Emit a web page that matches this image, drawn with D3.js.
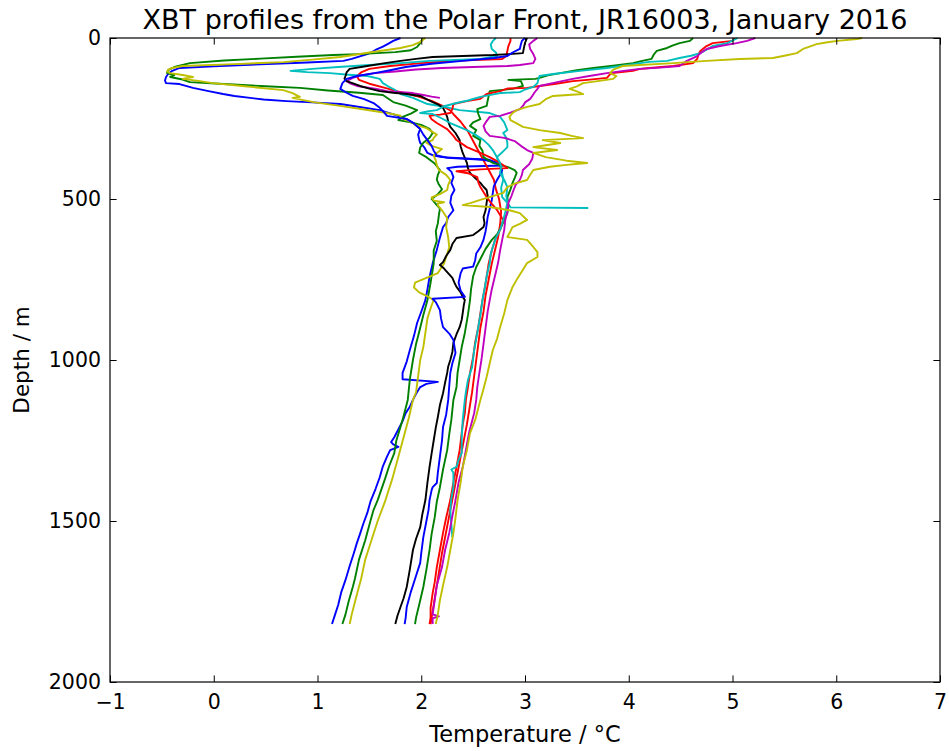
<!DOCTYPE html>
<html>
  <head>
    <meta charset="utf-8">
    <style>
body { margin: 0; background: #fff; }
svg { display: block; }
text { font-family: "DejaVu Sans", sans-serif; }
.profile { fill: none; stroke-width: 1.9; stroke-linejoin: round; }
    </style>
  </head>
  <body>
    <svg width="949" height="751"></svg>
    <script src="https://d3js.org/d3.v7.min.js"></script>
    <script>

// XBT casts as [depth m, temperature degC], in the order they were plotted
var cast1 = [[0,1.80],[9,1.73],[18,1.68],[27,1.63],[35,1.57],[43,1.53],[50,1.48],[58,1.40],[65,1.33],[71,1.25],[76,0.9],[82,0.45],[88,0.0],[93,-0.33],[102,-0.4],[112,-0.44],[121,-0.46],[132,-0.47],[140,-0.46],[143,-0.33],[155,-0.2],[165,-0.05],[174,0.09],[180,0.2],[186,0.35],[191,0.48],[196,0.7],[200,0.95],[205,1.22],[215,1.42],[224,1.6],[238,1.74],[252,1.86],[266,1.93],[282,1.99],[300,1.97],[315,1.98],[326,1.99],[340,2.03],[357,2.06],[365,2.12],[370,2.2],[378,2.65],[386,2.72],[396,2.78],[400,2.35],[404,2.25],[415,2.29],[432,2.31],[450,2.29],[472,2.32],[490,2.29],[512,2.28],[535,2.31],[556,2.26],[575,2.24],[587,2.21],[620,2.18],[658,2.15],[700,2.11],[742,2.08],[780,2.06],[814,2.04],[850,2.0],[885,1.96],[925,1.93],[969,1.89],[1005,1.86],[1040,1.82],[1060,1.82],[1068,2.16],[1074,2.05],[1084,1.99],[1105,1.95],[1124,1.92],[1145,1.89],[1165,1.85],[1190,1.82],[1215,1.78],[1240,1.74],[1255,1.71],[1262,1.73],[1270,1.78],[1280,1.7],[1300,1.67],[1330,1.63],[1364,1.60],[1400,1.56],[1440,1.51],[1475,1.48],[1510,1.44],[1540,1.41],[1568,1.38],[1600,1.35],[1640,1.31],[1683,1.27],[1720,1.23],[1760,1.2],[1790,1.17],[1820,1.14]];

var cast2 = [[0,2.02],[10,2.0],[20,1.98],[28,1.96],[38,1.9],[44,1.75],[50,1.4],[53,1.15],[58,0.8],[64,0.45],[70,0.1],[78,-0.23],[90,-0.38],[100,-0.44],[109,-0.45],[115,-0.38],[121,-0.42],[129,-0.3],[137,-0.23],[143,0.1],[150,0.5],[155,0.83],[163,1.1],[170,1.4],[177,1.63],[188,1.68],[199,1.73],[210,1.85],[224,1.96],[235,1.9],[245,1.82],[255,1.78],[262,1.9],[270,2.0],[282,2.08],[295,2.11],[310,2.08],[325,2.02],[340,1.99],[357,1.98],[370,2.05],[390,2.13],[410,2.18],[425,2.16],[440,2.15],[455,2.17],[470,2.2],[485,2.16],[500,2.1],[515,2.14],[530,2.18],[550,2.17],[575,2.16],[600,2.14],[630,2.15],[660,2.12],[700,2.12],[760,2.09],[814,2.06],[860,2.02],[900,1.99],[950,1.95],[1000,1.92],[1060,1.89],[1124,1.87],[1186,1.82],[1250,1.76],[1289,1.74],[1330,1.69],[1370,1.65],[1435,1.58],[1466,1.54],[1500,1.51],[1560,1.46],[1620,1.4],[1680,1.36],[1705,1.34],[1750,1.3],[1790,1.27],[1820,1.24]];

var cast3 = [[0,2.86],[9,2.86],[25,2.84],[40,2.83],[56,2.82],[65,2.78],[71,2.3],[78,2.0],[87,1.7],[96,1.5],[107,1.42],[118,1.38],[130,1.4],[142,1.5],[155,1.65],[168,1.8],[180,1.95],[195,2.1],[210,2.2],[225,2.28],[240,2.32],[260,2.38],[290,2.45],[320,2.5],[350,2.55],[380,2.6],[410,2.65],[440,2.7],[470,2.72],[500,2.75],[540,2.77],[580,2.76],[620,2.74],[660,2.71],[700,2.68],[750,2.65],[800,2.62],[850,2.6],[900,2.57],[950,2.55],[1000,2.53],[1100,2.49],[1200,2.44],[1300,2.38],[1400,2.32],[1500,2.26],[1600,2.2],[1700,2.15],[1780,2.11],[1820,2.09]];

var cast4 = [[0,2.72],[9,2.69],[20,2.67],[34,2.68],[45,2.72],[56,2.73],[60,2.65],[65,2.57],[71,2.08],[78,1.8],[84,1.5],[90,1.2],[96,0.95],[102,0.74],[106,0.9],[109,1.12],[114,1.3],[118,1.48],[127,1.6],[140,1.63],[150,1.68],[160,1.74],[174,1.80],[186,1.92],[205,2.06],[211,2.18],[224,2.37],[233,2.66],[245,2.76],[262,2.8],[286,2.83],[295,2.79],[310,2.82],[326,2.83],[339,2.83],[355,2.78],[370,2.73],[385,2.74],[400,2.76],[420,2.78],[441,2.79],[465,2.77],[494,2.78],[512,2.83],[526,2.86],[528,3.61]];

var cast5 = [[0,3.12],[9,3.08],[20,3.04],[34,3.05],[50,3.08],[65,3.10],[78,3.08],[84,2.95],[87,2.83],[90,2.5],[93,2.2],[98,1.95],[104,1.75],[109,1.55],[116,1.42],[124,1.34],[134,1.28],[142,1.32],[149,1.38],[158,1.57],[165,1.67],[171,1.92],[177,2.02],[182,2.1],[186,2.18]];

var cast6 = [[0,2.04],[12,1.99],[22,1.92],[31,1.80],[45,1.5],[59,1.22],[67,0.95],[75,0.67],[81,0.2],[87,-0.3],[93,-0.4],[99,-0.44],[104,-0.45],[109,-0.42],[115,-0.3],[121,-0.2],[127,-0.3],[133,-0.15],[140,-0.01],[150,0.3],[162,0.67],[171,0.76],[178,0.8],[183,0.83],[186,0.76],[192,0.85],[199,0.96],[210,1.2],[222,1.45],[233,1.67],[241,1.8],[248,1.80],[258,1.88],[270,1.95],[280,2.05],[290,2.1],[300,2.15],[310,2.12],[317,2.11],[325,2.05],[335,2.1],[345,2.2],[355,2.16],[365,2.12],[380,2.14],[395,2.15],[410,2.17],[425,2.24],[441,2.28],[456,2.26],[472,2.25],[485,2.18],[495,2.10],[505,2.12],[510,2.22],[514,2.16],[520,2.16],[535,2.2],[560,2.25],[587,2.24],[620,2.26],[650,2.27],[670,2.25],[700,2.22],[730,2.16],[745,2.05],[760,1.94],[775,1.93],[790,1.98],[804,2.07],[814,2.12],[830,2.1],[870,2.06],[915,2.04],[960,2.02],[1000,1.99],[1050,1.97],[1100,1.95],[1124,1.92],[1180,1.88],[1240,1.83],[1300,1.78],[1370,1.72],[1440,1.65],[1500,1.58],[1560,1.52],[1620,1.46],[1680,1.42],[1740,1.37],[1790,1.33],[1820,1.31]];

var cast7 = [[0,3.02],[15,3.0],[30,2.99],[47,2.98],[50,2.85],[53,2.69],[56,2.4],[59,2.11],[65,1.95],[71,1.80],[78,1.65],[87,1.48],[96,1.31],[107,1.28],[118,1.27],[126,1.26],[134,1.28],[142,1.35],[149,1.41],[157,1.5],[165,1.60],[170,1.73],[174,1.86],[180,1.99],[190,2.05],[199,2.11],[208,2.17],[217,2.21],[230,2.23],[245,2.25],[260,2.26],[276,2.28],[295,2.33],[317,2.37],[337,2.38],[357,2.40],[372,2.42],[388,2.44],[404,2.45],[419,2.47],[435,2.52],[450,2.57],[462,2.6],[472,2.63],[490,2.64],[512,2.63],[535,2.62],[556,2.60],[575,2.61],[587,2.60],[600,2.55],[612,2.5],[621,2.34],[640,2.3],[658,2.28],[677,2.24],[696,2.21],[705,2.18],[716,2.22],[727,2.25],[745,2.30],[760,2.32],[773,2.34],[790,2.38],[804,2.40],[814,2.42],[830,2.41],[854,2.40],[875,2.39],[898,2.37],[920,2.34],[947,2.31],[975,2.3],[1000,2.28],[1020,2.26],[1040,2.25],[1070,2.23],[1103,2.21],[1140,2.18],[1177,2.16],[1210,2.14],[1250,2.12],[1290,2.1],[1332,2.08],[1380,2.06],[1435,2.04],[1480,2.01],[1519,1.99],[1555,1.95],[1590,1.92],[1650,1.89],[1705,1.86],[1740,1.83],[1767,1.80],[1795,1.77],[1820,1.75]];

var cast8 = [[0,3.0],[9,2.97],[20,2.96],[34,2.95],[45,2.88],[56,2.83],[62,2.7],[71,2.4],[80,2.1],[90,1.85],[100,1.7],[109,1.55],[118,1.38],[127,1.28],[140,1.24],[158,1.22],[170,1.28],[180,1.34],[190,1.45],[202,1.54],[217,1.60],[230,1.64],[242,1.67],[252,1.86],[265,1.93],[283,1.99],[300,2.02],[317,2.06],[335,2.1],[350,2.12],[365,2.15],[372,2.25],[378,2.6],[385,2.7],[395,2.76],[410,2.78],[425,2.76],[441,2.73],[460,2.7],[480,2.69],[503,2.68],[530,2.66],[556,2.64],[580,2.63],[600,2.62],[627,2.6],[650,2.57],[669,2.53],[690,2.52],[710,2.5],[716,2.4],[730,2.38],[760,2.36],[785,2.38],[804,2.42],[810,2.11],[820,2.14],[845,2.18],[870,2.19],[898,2.21],[918,2.27],[938,2.31],[958,2.32],[978,2.33],[1010,2.3],[1040,2.28],[1080,2.27],[1124,2.26],[1170,2.24],[1208,2.21],[1250,2.2],[1300,2.18],[1350,2.16],[1382,2.15],[1395,2.11],[1404,2.10],[1435,2.08],[1466,2.07],[1500,2.05],[1550,2.02],[1600,2.0],[1630,1.99],[1680,1.94],[1720,1.9],[1767,1.86],[1800,1.85],[1820,1.84]];

var cast9 = [[0,4.62],[9,4.59],[16,4.49],[24,4.42],[31,4.37],[40,4.27],[52,4.24],[65,4.22],[72,4.12],[78,4.04],[86,3.85],[93,3.66],[100,3.5],[109,3.34],[116,3.22],[124,3.14],[127,3.1],[130,2.84],[134,2.96],[141,2.97],[149,2.98],[158,2.88],[165,2.66],[180,2.65],[195,2.64],[211,2.63],[221,2.54],[236,2.55],[252,2.57],[262,2.5],[273,2.47],[286,2.53],[304,2.5],[317,2.57],[335,2.56],[350,2.59],[370,2.60],[388,2.69],[400,2.83],[410,2.9],[419,2.92],[435,2.9],[450,2.88],[470,2.86],[494,2.83],[520,2.84],[544,2.83],[565,2.8],[587,2.77],[610,2.73],[627,2.68],[655,2.62],[680,2.58],[711,2.53],[740,2.5],[780,2.48],[814,2.47],[860,2.45],[916,2.42],[960,2.39],[1000,2.37],[1040,2.35],[1084,2.34],[1124,2.31],[1186,2.29],[1230,2.27],[1280,2.25],[1340,2.21],[1395,2.18],[1440,2.15],[1488,2.13],[1540,2.1],[1590,2.08],[1650,2.05],[1705,2.02],[1760,1.98],[1800,1.95],[1820,1.94]];

var cast10 = [[0,5.02],[9,5.0],[16,4.81],[25,4.75],[40,4.69],[52,4.67],[65,4.66],[78,4.62],[87,4.43],[93,4.2],[96,4.11],[102,4.04],[109,3.84],[116,3.81],[124,3.79],[130,3.6],[134,3.46],[142,3.3],[149,3.14],[155,3.02],[157,2.83],[165,2.76],[174,2.63],[189,2.57],[196,2.44],[205,2.31],[220,2.3],[233,2.28],[238,2.18],[242,2.08],[252,2.1],[264,2.15],[283,2.25],[304,2.31],[317,2.34],[339,2.44],[357,2.57],[370,2.66],[388,2.76],[404,2.83],[408,2.57],[414,2.34],[420,2.45],[432,2.54],[448,2.55],[463,2.57],[494,2.63],[515,2.68],[534,2.73],[565,2.79],[596,2.76],[627,2.71],[660,2.68],[700,2.65],[742,2.63],[780,2.61],[814,2.59],[855,2.57],[898,2.55],[945,2.52],[991,2.50],[1040,2.47],[1084,2.45],[1124,2.43],[1165,2.42],[1200,2.4],[1227,2.39],[1280,2.37],[1332,2.34],[1380,2.31],[1435,2.28],[1490,2.24],[1537,2.21],[1590,2.18],[1643,2.15],[1690,2.13],[1724,2.11],[1770,2.09],[1800,2.09],[1820,2.08]];

var cast11 = [[0,5.05],[16,4.95],[25,4.81],[36,4.75],[47,4.69],[55,4.6],[62,4.49],[71,4.37],[74,4.2],[81,4.04],[93,3.79],[102,3.53],[112,3.27],[118,3.14],[128,3.13],[140,3.12],[152,3.08],[160,3.0],[168,2.95],[171,2.76],[183,2.57],[194,2.45],[202,2.34],[212,2.22],[224,2.15],[228,2.06],[233,1.99],[236,2.11],[250,2.2],[264,2.28],[275,2.36],[286,2.44],[300,2.52],[317,2.6],[332,2.65],[348,2.69],[365,2.72],[388,2.76],[400,2.77],[419,2.76],[441,2.8],[463,2.83],[490,2.82],[512,2.83],[540,2.81],[565,2.79],[596,2.76],[620,2.72],[649,2.69],[670,2.67],[699,2.66],[740,2.63],[780,2.61],[814,2.59],[860,2.57],[916,2.54],[970,2.51],[1022,2.49],[1062,2.45],[1100,2.43],[1124,2.42],[1186,2.40],[1240,2.39],[1289,2.39],[1310,2.36],[1332,2.34],[1340,2.29],[1350,2.31],[1395,2.31],[1430,2.29],[1466,2.28],[1510,2.29],[1550,2.30]];

var cast12 = [[0,5.22],[9,5.14],[16,5.04],[25,4.88],[34,4.75],[45,4.7],[56,4.66],[71,4.56],[80,4.52],[87,4.49],[92,4.3],[96,4.11],[102,3.95],[109,3.79],[118,3.62],[127,3.46],[138,3.3],[149,3.14],[158,3.12],[170,3.09],[180,3.07],[189,3.05],[200,3.0],[211,2.98],[221,2.95],[232,2.86],[242,2.76],[245,2.66],[258,2.63],[273,2.60],[290,2.62],[304,2.66],[310,2.8],[320,2.9],[335,2.96],[348,3.02],[357,3.08],[375,3.07],[392,3.04],[410,2.98],[425,2.97],[441,2.95],[456,2.91],[472,2.89],[490,2.87],[512,2.84],[540,2.83],[565,2.81],[595,2.8],[627,2.78],[660,2.76],[699,2.74],[740,2.71],[780,2.68],[814,2.66],[850,2.64],[900,2.62],[950,2.6],[1000,2.58],[1040,2.56],[1084,2.54],[1124,2.53],[1165,2.51],[1227,2.46],[1280,2.43],[1332,2.40],[1380,2.36],[1435,2.33],[1485,2.3],[1537,2.27],[1590,2.23],[1643,2.20],[1700,2.15],[1746,2.13],[1790,2.11],[1796,2.17],[1802,2.11],[1820,2.11]];

var cast13 = [[0,6.25],[3,6.2],[9,6.01],[14,5.9],[19,5.81],[26,5.75],[34,5.68],[47,5.62],[55,5.5],[62,5.39],[65,5.07],[71,4.75],[78,4.43],[87,3.94],[98,3.85],[109,3.82],[118,3.88],[127,3.85],[134,3.7],[140,3.56],[150,3.5],[158,3.43],[166,3.5],[174,3.56],[180,3.27],[190,3.2],[205,3.14],[214,3.02],[224,2.92],[233,2.88],[245,2.85],[255,2.86],[265,2.92],[276,2.98],[286,3.14],[295,3.34],[304,3.45],[311,3.56],[317,3.17],[326,3.34],[333,3.2],[339,3.08],[348,3.31],[357,3.08],[370,3.2],[381,3.4],[388,3.60],[394,3.4],[400,3.24],[410,3.08],[425,3.05],[441,3.02],[452,2.9],[463,2.83],[481,2.79],[495,2.65],[503,2.57],[512,2.48],[519,2.40],[525,2.66],[535,2.85],[544,2.95],[565,3.02],[577,2.95],[587,2.88],[600,2.86],[618,2.83],[627,3.02],[649,3.08],[665,3.12],[680,3.12],[699,3.02],[720,2.98],[745,2.93],[773,2.88],[814,2.83],[855,2.8],[898,2.76],[935,2.73],[969,2.69],[1010,2.66],[1053,2.63],[1090,2.6],[1124,2.57],[1186,2.52],[1227,2.47],[1280,2.44],[1332,2.40],[1380,2.38],[1435,2.35],[1490,2.33],[1537,2.31],[1590,2.28],[1643,2.25],[1700,2.21],[1746,2.18],[1790,2.16],[1820,2.14]];

var xTicks = [-1, 0, 1, 2, 3, 4, 5, 6, 7];
var yTicks = [0, 500, 1000, 1500, 2000];

// old matplotlib colour cycle b, g, r, c, m, y, k
var colors = ["#0000ff", "#008000", "#ff0000", "#00bfbf", "#bf00bf", "#bfbf00", "#000000"];
var casts = [cast1, cast2, cast3, cast4, cast5, cast6, cast7, cast8, cast9, cast10, cast11, cast12, cast13];

var svg = d3.select("svg"),
    margin = {top: 38, right: 9, bottom: 69, left: 110},
    width = +svg.attr("width") - margin.left - margin.right,
    height = +svg.attr("height") - margin.top - margin.bottom;

var x = d3.scaleLinear().domain([-1, 7]).range([0, width]),
    y = d3.scaleLinear().domain([0, 2000]).range([0, height]);

var g = svg.append("g")
  .attr("transform", "translate(" + margin.left + "," + margin.top + ")");

var line = d3.line()
  .x(function(d) { return x(d[1]); })
  .y(function(d) { return y(d[0]); });

g.selectAll(".profile")
  .data(casts)
  .enter().append("path")
  .attr("class", "profile")
  .attr("stroke", function(d, i) { return colors[i % colors.length]; })
  .attr("d", line);

var tick = 6.6, fs = 20.5;

g.append("g")
  .attr("transform", "translate(0," + height + ")")
  .call(d3.axisBottom(x).tickValues(xTicks).tickSizeInner(-tick).tickSizeOuter(0).tickPadding(12).tickFormat(d3.format("d")));
g.append("g")
  .call(d3.axisTop(x).tickValues(xTicks).tickSizeInner(-tick).tickSizeOuter(0).tickFormat(""));
g.append("g")
  .call(d3.axisLeft(y).tickValues(yTicks).tickSizeInner(-tick).tickSizeOuter(0).tickPadding(9).tickFormat(d3.format("d")));
g.append("g")
  .attr("transform", "translate(" + width + ",0)")
  .call(d3.axisRight(y).tickValues(yTicks).tickSizeInner(-tick).tickSizeOuter(0).tickFormat(""));

g.selectAll(".domain").remove();
g.selectAll(".tick line").attr("stroke", "#000").attr("stroke-width", 1);
g.selectAll(".tick text")
  .attr("font-family", "DejaVu Sans")
  .attr("font-size", fs)
  .attr("fill", "#000");

g.append("rect")
  .attr("width", width)
  .attr("height", height)
  .attr("fill", "none")
  .attr("stroke", "#000")
  .attr("stroke-width", 1.2);

// title and axis labels
g.append("text")
  .attr("x", width / 2)
  .attr("y", -9)
  .attr("text-anchor", "middle")
  .style("font-size", "27px")
  .text("XBT profiles from the Polar Front, JR16003, January 2016");

g.append("text")
  .attr("x", width / 2)
  .attr("y", height + 60)
  .attr("text-anchor", "middle")
  .style("font-size", "22.5px")
  .text("Temperature / °C");

g.append("text")
  .attr("transform", "rotate(-90)")
  .attr("x", -height / 2)
  .attr("y", -81)
  .attr("text-anchor", "middle")
  .style("font-size", "21.5px")
  .text("Depth / m");

    </script>
  </body>
</html>
